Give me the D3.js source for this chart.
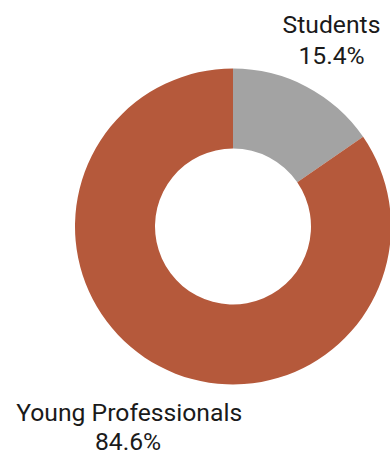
<!DOCTYPE html>
<html>
<head>
<meta charset="utf-8">
<script src="https://cdn.jsdelivr.net/npm/d3@7"></script>
<style>
  html, body { margin: 0; padding: 0; background: #fff; }
  svg { display: block; }
  text { font-family: Roboto, "Noto Sans", sans-serif; fill: #1a1a1a; }
</style>
</head>
<body>
<svg id="chart" width="390" height="456"></svg>
<script>
const categories = ["Students", "Young Professionals"];
const values = [15.4, 84.6];
const colors = ["#a3a3a3", "#b5593b"];

const svg = d3.select("#chart");
const cx = 233, cy = 226.5;
const outerR = 158, innerR = 78;

const pie = d3.pie().sort(null).value(d => d.value);
const arcs = pie(categories.map((c, i) => ({ name: c, value: values[i], color: colors[i] })));
const arc = d3.arc().innerRadius(innerR).outerRadius(outerR);

const g = svg.append("g").attr("transform", `translate(${cx},${cy})`);
g.selectAll("path")
  .data(arcs)
  .join("path")
  .attr("d", arc)
  .attr("fill", d => d.data.color);

// Slice labels: category name over its percentage
const labelPos = [
  { x1: 331.5, y1: 33, x2: 331.5, y2: 63.5 },
  { x1: 129.2, y1: 420.5, x2: 128, y2: 449.5 }
];
const fmt = d3.format(".1f");
arcs.forEach((a, i) => {
  const p = labelPos[i];
  const t = svg.append("text")
    .attr("text-anchor", "middle")
    .attr("font-size", 24.7);
  t.append("tspan").attr("x", p.x1).attr("y", p.y1).text(a.data.name);
  t.append("tspan").attr("x", p.x2).attr("y", p.y2).text(fmt(a.data.value) + "%");
});
</script>
</body>
</html>
